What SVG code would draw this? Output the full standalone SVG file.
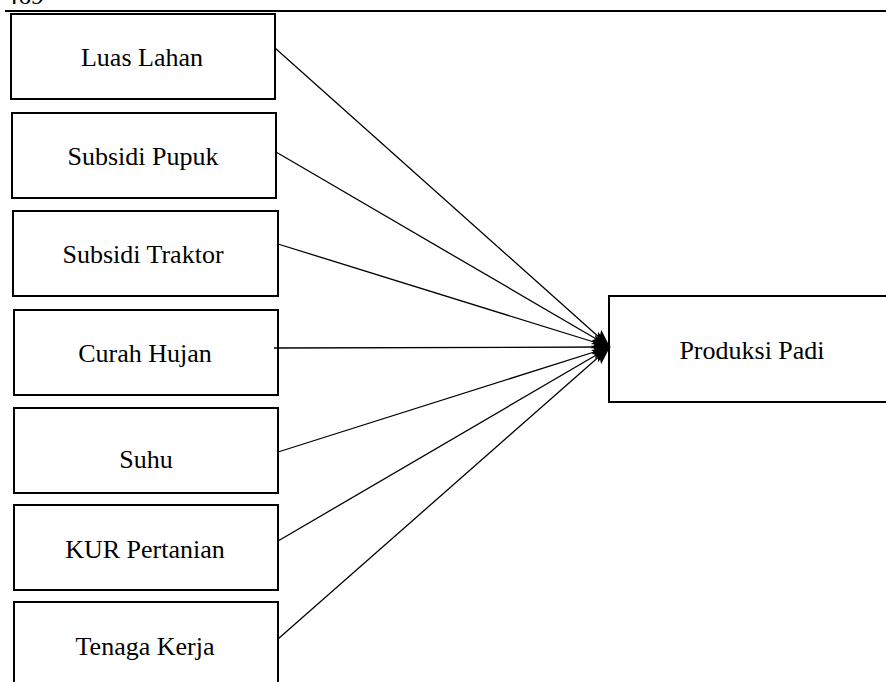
<svg xmlns="http://www.w3.org/2000/svg" width="886" height="682" viewBox="0 0 886 682">
<style>
.box{fill:#fff;stroke:#000;stroke-width:2}
.lbl{font-family:"Liberation Serif","Times New Roman",serif;font-size:26px;fill:#000;text-anchor:middle}
.edge{stroke:#000;stroke-width:1.3;fill:none}
</style>
<defs>
<marker id="arr" markerUnits="userSpaceOnUse" markerWidth="20" markerHeight="16" refX="18" refY="7" orient="auto">
<path d="M0,0 L18,7 L0,14 L4,7 z" fill="#000"/>
</marker>
</defs>
<rect width="886" height="682" fill="#fff"/>
<text x="5" y="4" style="font-family:'Liberation Serif','Times New Roman',serif;font-size:26px">469</text>
<line x1="5" y1="11" x2="886" y2="11" stroke="#000" stroke-width="2"/>
<g id="n1"><rect class="box" x="11" y="14" width="264" height="85"/><text class="lbl" x="142" y="66">Luas Lahan</text></g>
<g id="n2"><rect class="box" x="12" y="113" width="264" height="85"/><text class="lbl" x="143" y="165">Subsidi Pupuk</text></g>
<g id="n3"><rect class="box" x="13" y="211" width="265" height="85"/><text class="lbl" x="143" y="263">Subsidi Traktor</text></g>
<g id="n4"><rect class="box" x="14" y="310" width="264" height="85"/><text class="lbl" x="145" y="362">Curah Hujan</text></g>
<g id="n5"><rect class="box" x="14" y="408" width="264" height="85"/><text class="lbl" x="146" y="468">Suhu</text></g>
<g id="n6"><rect class="box" x="14" y="505" width="264" height="85"/><text class="lbl" x="145" y="558">KUR Pertanian</text></g>
<g id="n7"><rect class="box" x="14" y="602" width="264" height="100"/><text class="lbl" x="145" y="655">Tenaga Kerja</text></g>
<g id="n8"><rect class="box" x="609" y="296" width="290" height="106"/><text class="lbl" x="752" y="359">Produksi Padi</text></g>
<g id="edges">
<line class="edge" x1="275" y1="48" x2="610" y2="347" marker-end="url(#arr)"/>
<line class="edge" x1="276" y1="152" x2="610" y2="347" marker-end="url(#arr)"/>
<line class="edge" x1="278" y1="244" x2="610" y2="347" marker-end="url(#arr)"/>
<line class="edge" x1="274" y1="348" x2="610" y2="347" marker-end="url(#arr)"/>
<line class="edge" x1="278" y1="452" x2="610" y2="347" marker-end="url(#arr)"/>
<line class="edge" x1="278" y1="541" x2="610" y2="347" marker-end="url(#arr)"/>
<line class="edge" x1="278" y1="639" x2="610" y2="347" marker-end="url(#arr)"/>
</g>
</svg>
